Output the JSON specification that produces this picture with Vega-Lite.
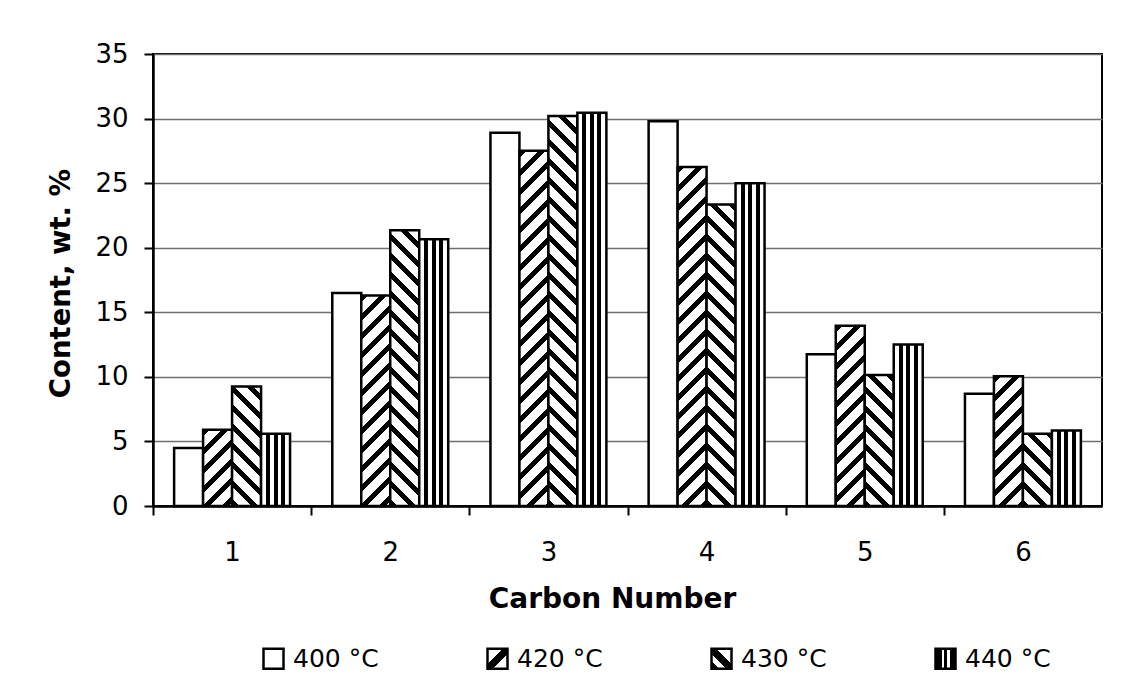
{
  "$schema": "https://vega.github.io/schema/vega-lite/v6.json",
  "autosize": {"type": "none"},
  "padding": {"left": 153, "top": 54, "right": 35, "bottom": 193},
  "width": 949,
  "height": 452,
  "background": "white",
  "params": [
    {"name": "sd", "value": [
      {"offset": 0, "color": "black"}, {"offset": 0.01602, "color": "black"}, {"offset": 0.01602, "color": "white"}, {"offset": 0.04348, "color": "white"},
      {"offset": 0.04348, "color": "black"}, {"offset": 0.0595, "color": "black"}, {"offset": 0.0595, "color": "white"}, {"offset": 0.08696, "color": "white"},
      {"offset": 0.08696, "color": "black"}, {"offset": 0.10297, "color": "black"}, {"offset": 0.10297, "color": "white"}, {"offset": 0.13043, "color": "white"},
      {"offset": 0.13043, "color": "black"}, {"offset": 0.14645, "color": "black"}, {"offset": 0.14645, "color": "white"}, {"offset": 0.17391, "color": "white"},
      {"offset": 0.17391, "color": "black"}, {"offset": 0.18993, "color": "black"}, {"offset": 0.18993, "color": "white"}, {"offset": 0.21739, "color": "white"},
      {"offset": 0.21739, "color": "black"}, {"offset": 0.23341, "color": "black"}, {"offset": 0.23341, "color": "white"}, {"offset": 0.26087, "color": "white"},
      {"offset": 0.26087, "color": "black"}, {"offset": 0.27689, "color": "black"}, {"offset": 0.27689, "color": "white"}, {"offset": 0.30435, "color": "white"},
      {"offset": 0.30435, "color": "black"}, {"offset": 0.32037, "color": "black"}, {"offset": 0.32037, "color": "white"}, {"offset": 0.34783, "color": "white"},
      {"offset": 0.34783, "color": "black"}, {"offset": 0.36384, "color": "black"}, {"offset": 0.36384, "color": "white"}, {"offset": 0.3913, "color": "white"},
      {"offset": 0.3913, "color": "black"}, {"offset": 0.40732, "color": "black"}, {"offset": 0.40732, "color": "white"}, {"offset": 0.43478, "color": "white"},
      {"offset": 0.43478, "color": "black"}, {"offset": 0.4508, "color": "black"}, {"offset": 0.4508, "color": "white"}, {"offset": 0.47826, "color": "white"},
      {"offset": 0.47826, "color": "black"}, {"offset": 0.49428, "color": "black"}, {"offset": 0.49428, "color": "white"}, {"offset": 0.52174, "color": "white"},
      {"offset": 0.52174, "color": "black"}, {"offset": 0.53776, "color": "black"}, {"offset": 0.53776, "color": "white"}, {"offset": 0.56522, "color": "white"},
      {"offset": 0.56522, "color": "black"}, {"offset": 0.58124, "color": "black"}, {"offset": 0.58124, "color": "white"}, {"offset": 0.6087, "color": "white"},
      {"offset": 0.6087, "color": "black"}, {"offset": 0.62471, "color": "black"}, {"offset": 0.62471, "color": "white"}, {"offset": 0.65217, "color": "white"},
      {"offset": 0.65217, "color": "black"}, {"offset": 0.66819, "color": "black"}, {"offset": 0.66819, "color": "white"}, {"offset": 0.69565, "color": "white"},
      {"offset": 0.69565, "color": "black"}, {"offset": 0.71167, "color": "black"}, {"offset": 0.71167, "color": "white"}, {"offset": 0.73913, "color": "white"},
      {"offset": 0.73913, "color": "black"}, {"offset": 0.75515, "color": "black"}, {"offset": 0.75515, "color": "white"}, {"offset": 0.78261, "color": "white"},
      {"offset": 0.78261, "color": "black"}, {"offset": 0.79863, "color": "black"}, {"offset": 0.79863, "color": "white"}, {"offset": 0.82609, "color": "white"},
      {"offset": 0.82609, "color": "black"}, {"offset": 0.84211, "color": "black"}, {"offset": 0.84211, "color": "white"}, {"offset": 0.86957, "color": "white"},
      {"offset": 0.86957, "color": "black"}, {"offset": 0.88558, "color": "black"}, {"offset": 0.88558, "color": "white"}, {"offset": 0.91304, "color": "white"},
      {"offset": 0.91304, "color": "black"}, {"offset": 0.92906, "color": "black"}, {"offset": 0.92906, "color": "white"}, {"offset": 0.95652, "color": "white"},
      {"offset": 0.95652, "color": "black"}, {"offset": 0.97254, "color": "black"}, {"offset": 0.97254, "color": "white"}, {"offset": 1, "color": "white"}
    ]},
    {"name": "sv", "value": [
      {"offset": 0, "color": "white"}, {"offset": 0.1724, "color": "white"}, {"offset": 0.1724, "color": "black"}, {"offset": 0.3103, "color": "black"},
      {"offset": 0.3103, "color": "white"}, {"offset": 0.431, "color": "white"}, {"offset": 0.431, "color": "black"}, {"offset": 0.569, "color": "black"},
      {"offset": 0.569, "color": "white"}, {"offset": 0.6897, "color": "white"}, {"offset": 0.6897, "color": "black"}, {"offset": 0.8276, "color": "black"},
      {"offset": 0.8276, "color": "white"}, {"offset": 1, "color": "white"}
    ]},
    {"name": "l420", "value": [
      {"offset": 0, "color": "white"}, {"offset": 0.38, "color": "white"}, {"offset": 0.38, "color": "black"}, {"offset": 0.62, "color": "black"}, {"offset": 0.62, "color": "white"}, {"offset": 1, "color": "white"}
    ]},
    {"name": "l430", "value": [
      {"offset": 0, "color": "black"}, {"offset": 0.2, "color": "black"}, {"offset": 0.2, "color": "white"}, {"offset": 0.38, "color": "white"}, {"offset": 0.38, "color": "black"}, {"offset": 0.62, "color": "black"}, {"offset": 0.62, "color": "white"}, {"offset": 1, "color": "white"}
    ]},
    {"name": "l440", "value": [
      {"offset": 0, "color": "black"}, {"offset": 0.3, "color": "black"}, {"offset": 0.3, "color": "white"}, {"offset": 0.42, "color": "white"}, {"offset": 0.42, "color": "black"}, {"offset": 0.58, "color": "black"}, {"offset": 0.58, "color": "white"}, {"offset": 0.7, "color": "white"}, {"offset": 0.7, "color": "black"}, {"offset": 1, "color": "black"}
    ]}
  ],
  "data": {"values": [
    {"carbon": "1", "temp": "400 °C", "content": 4.5},
    {"carbon": "1", "temp": "420 °C", "content": 5.9},
    {"carbon": "1", "temp": "430 °C", "content": 9.25},
    {"carbon": "1", "temp": "440 °C", "content": 5.6},
    {"carbon": "2", "temp": "400 °C", "content": 16.5},
    {"carbon": "2", "temp": "420 °C", "content": 16.3},
    {"carbon": "2", "temp": "430 °C", "content": 21.35},
    {"carbon": "2", "temp": "440 °C", "content": 20.65},
    {"carbon": "3", "temp": "400 °C", "content": 28.9},
    {"carbon": "3", "temp": "420 °C", "content": 27.5},
    {"carbon": "3", "temp": "430 °C", "content": 30.2},
    {"carbon": "3", "temp": "440 °C", "content": 30.45},
    {"carbon": "4", "temp": "400 °C", "content": 29.8},
    {"carbon": "4", "temp": "420 °C", "content": 26.25},
    {"carbon": "4", "temp": "430 °C", "content": 23.35},
    {"carbon": "4", "temp": "440 °C", "content": 25.0},
    {"carbon": "5", "temp": "400 °C", "content": 11.75},
    {"carbon": "5", "temp": "420 °C", "content": 13.95},
    {"carbon": "5", "temp": "430 °C", "content": 10.15},
    {"carbon": "5", "temp": "440 °C", "content": 12.5},
    {"carbon": "6", "temp": "400 °C", "content": 8.7},
    {"carbon": "6", "temp": "420 °C", "content": 10.05},
    {"carbon": "6", "temp": "430 °C", "content": 5.6},
    {"carbon": "6", "temp": "440 °C", "content": 5.85}
  ]},
  "mark": {
    "type": "bar",
    "strokeWidth": 2.5,
    "fill": {"expr": "isValid(datum.value) ? (datum.value==='400 °C' ? 'white' : datum.value==='420 °C' ? {gradient:'linear',x1:0,y1:0,x2:1,y2:1,stops:l420} : datum.value==='430 °C' ? {gradient:'linear',x1:0,y1:1,x2:1,y2:0,stops:l430} : {gradient:'linear',x1:0,y1:0,x2:1,y2:0,stops:l440}) : datum.temp==='400 °C' ? 'white' : datum.temp==='440 °C' ? {gradient:'linear',x1:0,y1:0,x2:1,y2:0,stops:sv} : datum.temp==='420 °C' ? {gradient:'linear',x1:0,y1:0,x2:437*bandwidth('xOffset')/(pow(bandwidth('xOffset'),2)+pow(scale('y',0)-scale('y',datum.content),2)),y2:437*(scale('y',0)-scale('y',datum.content))/(pow(bandwidth('xOffset'),2)+pow(scale('y',0)-scale('y',datum.content),2)),stops:sd} : {gradient:'linear',x1:0,y1:1,x2:437*bandwidth('xOffset')/(pow(bandwidth('xOffset'),2)+pow(scale('y',0)-scale('y',datum.content),2)),y2:1-437*(scale('y',0)-scale('y',datum.content))/(pow(bandwidth('xOffset'),2)+pow(scale('y',0)-scale('y',datum.content),2)),stops:sd}"}
  },
  "encoding": {
    "x": {
      "field": "carbon",
      "type": "nominal",
      "title": "Carbon Number",
      "scale": {"paddingInner": 0.267, "paddingOuter": 0.1335},
      "axis": {
        "labelAngle": 0,
        "labelPadding": 24,
        "tickOffset": -79.08,
        "labelOffset": 79.08,
        "titleFontSize": 28,
        "titleX": 459,
        "titleY": 101,
        "titleBaseline": "alphabetic",
        "titleAlign": "center"
      }
    },
    "xOffset": {"field": "temp", "type": "nominal", "scale": {"paddingInner": 0, "paddingOuter": 0}},
    "y": {
      "field": "content",
      "type": "quantitative",
      "stack": null,
      "title": "Content, wt. %",
      "scale": {"domain": [0, 35], "nice": false},
      "axis": {
        "values": [0, 5, 10, 15, 20, 25, 30, 35],
        "labelPadding": 16,
        "grid": true,
        "gridColor": "#707070",
        "gridWidth": 1.3,
        "titleFontSize": 27.5,
        "titleAngle": 270,
        "titleX": -84,
        "titleY": 229,
        "titleAlign": "center",
        "titleBaseline": "alphabetic"
      }
    },
    "stroke": {
      "field": "temp",
      "type": "nominal",
      "scale": {"range": ["black", "black", "black", "black"]},
      "legend": {
        "orient": "none",
        "legendX": 108,
        "legendY": 592,
        "direction": "horizontal",
        "columns": 4,
        "columnPadding": 103,
        "title": null,
        "padding": 0,
        "symbolType": "square",
        "symbolSize": 400,
        "symbolStrokeWidth": 2.5,
        "symbolStrokeColor": "black",
        "labelFont": "DejaVu Sans",
        "labelFontSize": 25,
        "labelColor": "black",
        "labelOffset": 7
      }
    }
  },
  "config": {
    "font": "DejaVu Sans",
    "view": {"stroke": "black", "strokeWidth": 2},
    "axis": {
      "domainColor": "black",
      "domainWidth": 2.5,
      "tickColor": "black",
      "tickWidth": 2,
      "tickSize": 9,
      "labelColor": "black",
      "labelFont": "DejaVu Sans",
      "labelFontSize": 26,
      "titleColor": "black",
      "titleFont": "DejaVu Sans",
      "titleFontWeight": "bold"
    }
  }
}
